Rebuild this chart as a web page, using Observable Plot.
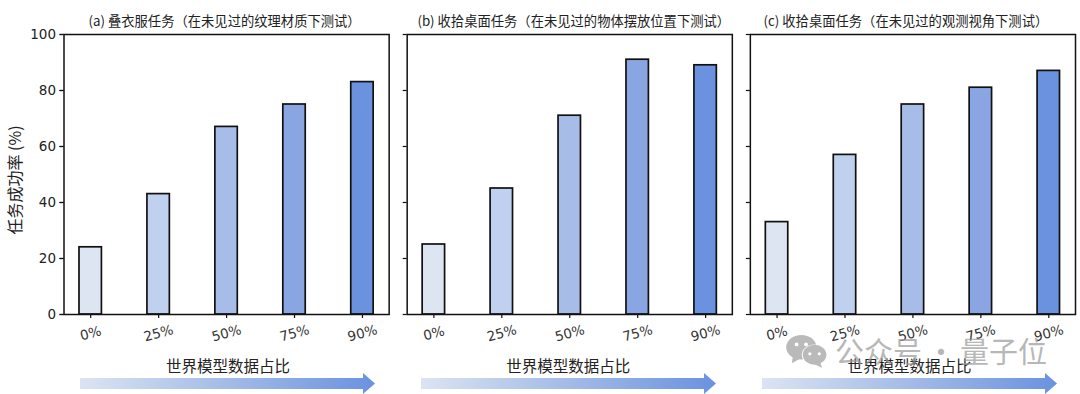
<!DOCTYPE html>
<html><head><meta charset="utf-8">
<script src="https://cdn.jsdelivr.net/npm/d3@7"></script>
<script src="https://cdn.jsdelivr.net/npm/@observablehq/plot@0.6"></script>
<style>
html,body{margin:0;padding:0;background:#fff;width:1080px;height:394px;overflow:hidden}
#wrap{position:relative;width:1080px;height:394px}
svg{display:block}
.arrow{position:absolute;top:373px;height:21px;clip-path:polygon(0 5px,calc(100% - 12px) 5px,calc(100% - 12px) 0,100% 10.5px,calc(100% - 12px) 21px,calc(100% - 12px) 16px,0 16px);background:linear-gradient(90deg,#dbe4f2,#a9bfe8 45%,#6a92e0)}
.mark{position:absolute;left:835px;top:329px;font:29px "Noto Sans CJK SC";color:#9a9a9a;opacity:.7;white-space:nowrap;word-spacing:-2px}
#wx{position:absolute;left:786px;top:334px}
</style></head><body><div id="wrap"></div>
<script>
const ratios = ["0%","25%","50%","75%","90%"];
const panels = ["a","b","c"];
const panelTitles = {
  a:"(a) 叠衣服任务（在未见过的纹理材质下测试）",
  b:"(b) 收拾桌面任务（在未见过的物体摆放位置下测试）",
  c:"(c) 收拾桌面任务（在未见过的观测视角下测试）"
};
const titleShift = {a:-2,b:4,c:-7};
const xTitleShift = {a:1.5,b:-1.5,c:-3.5};
const valuesA = [24,43,67,75,83];
const valuesB = [25,45,71,91,89];
const valuesC = [33,57,75,81,87];
const barColors = ["#dde5f3","#c0d0ef","#a7bde7","#8aa6e2","#6b92df"];
const yTicks = [0,20,40,60,80,100];
const rows = [["a",valuesA],["b",valuesB],["c",valuesC]]
  .flatMap(([p,vs])=>vs.map((v,i)=>({panel:p,ratio:ratios[i],value:v})));
const cjk = '"Noto Sans CJK SC","DejaVu Sans",sans-serif';
const perPanelText = (p, opts) => Plot.text([p], {fx:d=>d, ...opts});
const chart = Plot.plot({
  width:1080,height:394,
  marginLeft:63.5,marginRight:5,marginTop:34,marginBottom:80,
  style:{fontFamily:'"DejaVu Sans",sans-serif',background:"#fff",color:"#111"},
  fx:{domain:panels,padding:0.0525,label:null,axis:null,round:false},
  x:{domain:ratios,paddingInner:0.67,paddingOuter:0.228,label:null,round:false},
  y:{domain:[0,100],label:null},
  color:{domain:ratios,range:barColors},
  marks:[
    Plot.barY(rows,{fx:"panel",x:"ratio",y:"value",fill:"ratio",stroke:"#111",strokeWidth:1.7}),
    Plot.frame({stroke:"#111",strokeWidth:1.5}),
    Plot.axisY({ticks:yTicks,anchor:"left",tickSize:4,tickFormat:()=>"",label:null,stroke:"#111",strokeWidth:1.2,facetAnchor:null}),
    Plot.axisY({ticks:yTicks,anchor:"left",tickSize:4,tickPadding:4,fontSize:13.5,label:null,fill:"#222",stroke:"#111",strokeWidth:1.2,facetAnchor:"left"}),
    Plot.axisX({anchor:"bottom",tickSize:4,tickPadding:15,fontSize:13.5,tickRotate:-15,textAnchor:"middle",label:null,fill:"#333",stroke:"#111",strokeWidth:1.2,facetAnchor:"bottom"}),
    ...panels.map(p=>perPanelText(p,{frameAnchor:"top",dy:-18,dx:titleShift[p],text:d=>panelTitles[d],fontSize:13.3,fontFamily:cjk,fill:"#222"})),
    ...panels.map(p=>perPanelText(p,{frameAnchor:"bottom",dy:57,dx:xTitleShift[p],text:()=>"世界模型数据占比",fontSize:15.5,fontFamily:cjk,fill:"#222"}))
  ]
});
const wrap = document.getElementById("wrap");
wrap.appendChild(chart);
const svg = d3.select(chart);
svg.append("text").attr("transform","translate(17,180) rotate(-90)").attr("text-anchor","middle").attr("dominant-baseline","middle")
  .style("font-family",cjk).style("font-size","16px").attr("fill","#222").text("任务成功率 (%)");
[[80,295],[421,295],[762,295]].forEach(([l,w])=>{
  const a=document.createElement("div");a.className="arrow";a.style.left=l+"px";a.style.width=w+"px";wrap.appendChild(a);
});
const m=document.createElement("div");m.className="mark";m.textContent="公众号 · 量子位";wrap.appendChild(m);
wrap.insertAdjacentHTML("beforeend",`<svg id="wx" width="42" height="34" viewBox="0 0 44 36" opacity=".6">
<ellipse cx="16" cy="14" rx="16" ry="13" fill="#8d8d8d"/><path d="M7 23 L6 31 L15 26Z" fill="#8d8d8d"/>
<ellipse cx="30" cy="22" rx="13.5" ry="11" fill="#fff"/><ellipse cx="30" cy="22" rx="12.5" ry="10.5" fill="#8d8d8d"/><path d="M36 30 L38 36 L30 32Z" fill="#8d8d8d"/>
<circle cx="11" cy="11" r="2" fill="#fff"/><circle cx="21" cy="11" r="2" fill="#fff"/><circle cx="25" cy="21" r="1.7" fill="#fff"/><circle cx="35" cy="21" r="1.7" fill="#fff"/></svg>`);
</script></body></html>
